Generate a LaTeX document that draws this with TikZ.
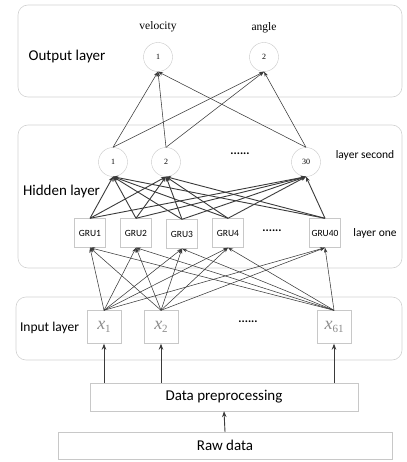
\documentclass[tikz,border=0pt]{standalone}
\usepackage{fontspec}
\setmainfont{Carlito}
\newfontfamily\serifface{Liberation Serif}
\usetikzlibrary{arrows.meta}
\definecolor{boxline}{HTML}{C8C8C8}
\definecolor{layerline}{HTML}{D2D2D2}
\definecolor{edge}{HTML}{3A3A3A}
\definecolor{xgray}{HTML}{8C8C8C}
\newcommand{\xsub}[1]{\raisebox{-3pt}{\upshape\fontsize{11}{12}\selectfont #1}}
\tikzset{
  layerbox/.style={draw=layerline, rounded corners=10pt, line width=0.6pt},
  neuron/.style={circle, draw=boxline, fill=white, minimum size=29pt, inner sep=0pt, font=\serifface\fontsize{8}{9}\selectfont},
  grubox/.style={rectangle, draw=boxline, fill=white, minimum width=31pt, minimum height=29pt, inner sep=0pt, font=\fontsize{9.5}{11}\selectfont},
  inbox/.style={rectangle, draw=boxline, fill=white, minimum width=34pt, minimum height=33pt, inner sep=0pt, text=xgray, font=\serifface\itshape\fontsize{18}{19}\selectfont},
  wide/.style={rectangle, draw=boxline, fill=white, inner sep=0pt, font=\fontsize{15}{17}\selectfont},
  lbl/.style={inner sep=0pt, font=\fontsize{15}{17}\selectfont},
  small/.style={inner sep=0pt, font=\fontsize{11.5}{13}\selectfont},
  dotlbl/.style={inner sep=0pt, font=\bfseries\fontsize{12}{13}\selectfont},
  seriflbl/.style={inner sep=0pt, font=\serifface\fontsize{11.5}{13}\selectfont},
  conn/.style={draw=edge, line width=0.55pt, -{Stealth[length=5pt,width=3.5pt]}},
  connb/.style={draw=edge, line width=0.9pt, -{Stealth[length=5pt,width=4pt]}},
  connup/.style={draw=edge, line width=0.9pt, -{Stealth[length=6pt,width=4.5pt]}}
}
\begin{document}
\begin{tikzpicture}[x=1pt,y=-1pt]
\useasboundingbox (0,0) rectangle (406,462);
% layer boxes
\draw[layerbox] (18,5) rectangle (402,97);
\draw[layerbox] (18,125) rectangle (402,268);
\draw[layerbox] (16,297) rectangle (402,360);
% labels
\node[lbl] (lout) at (67,57) {Output layer};
\node[lbl] (lhid) at (61.5,192) {Hidden layer};
\node[lbl, font=\fontsize{13.5}{15}\selectfont] (lin) at (49.5,328) {Input layer};
\node[small] (lsec) at (365,155) {layer second};
\node[small] (lone) at (375,233) {layer one};
\node[seriflbl] (tvel) at (158,27) {velocity};
\node[seriflbl] (tang) at (264,28) {angle};
\node[dotlbl] (d1) at (240,154) {......};
\node[dotlbl] (d2) at (272,231) {......};
\node[dotlbl] (d3) at (248,322) {......};
% output neurons
\node[neuron] (o1) at (158,57) {1};
\node[neuron] (o2) at (264,57) {2};
% hidden second
\node[neuron] (h1) at (113,162) {1};
\node[neuron] (h2) at (166,162) {2};
\node[neuron] (h30) at (306,162) {30};
% GRU
\node[grubox] (g1) at (90,233) {GRU1};
\node[grubox] (g2) at (136,233) {GRU2};
\node[grubox] (g3) at (182,234) {GRU3};
\node[grubox] (g4) at (228,233) {GRU4};
\node[grubox] (g40) at (325,233) {GRU40};
% inputs
\node[inbox] (x1) at (104,327) {x\xsub{1}};
\node[inbox] (x2) at (161,327) {x\xsub{2}};
\node[inbox] (x61) at (334,327) {x\xsub{61}};
% preprocessing and raw
\node[wide, minimum width=268pt, minimum height=28pt] (pre) at (224,397) {Data preprocessing};
\node[wide, minimum width=334pt, minimum height=27pt] (raw) at (225,445.5) {Raw data};
% edges hidden -> output
\foreach \h in {h1,h2,h30}{
  \foreach \o in {o1,o2}{
    \draw[conn] (\h.north) -- (\o.south);
  }
}
% edges GRU -> hidden
\foreach \g in {g1,g2,g3,g4,g40}{
  \foreach \h in {h1,h2,h30}{
    \draw[connb] (\g.north) -- (\h.south);
  }
}
% edges input -> GRU
\foreach \x in {x1,x2,x61}{
  \foreach \g in {g1,g2,g3,g4,g40}{
    \draw[conn] (\x.north) -- (\g.south);
  }
}
% preprocessing -> inputs
\foreach \x in {x1,x2,x61}{
  \draw[connup] (\x.south |- pre.north) -- (\x.south);
}
\draw[connup] (raw.north) -- (pre.south);
\end{tikzpicture}
\end{document}
